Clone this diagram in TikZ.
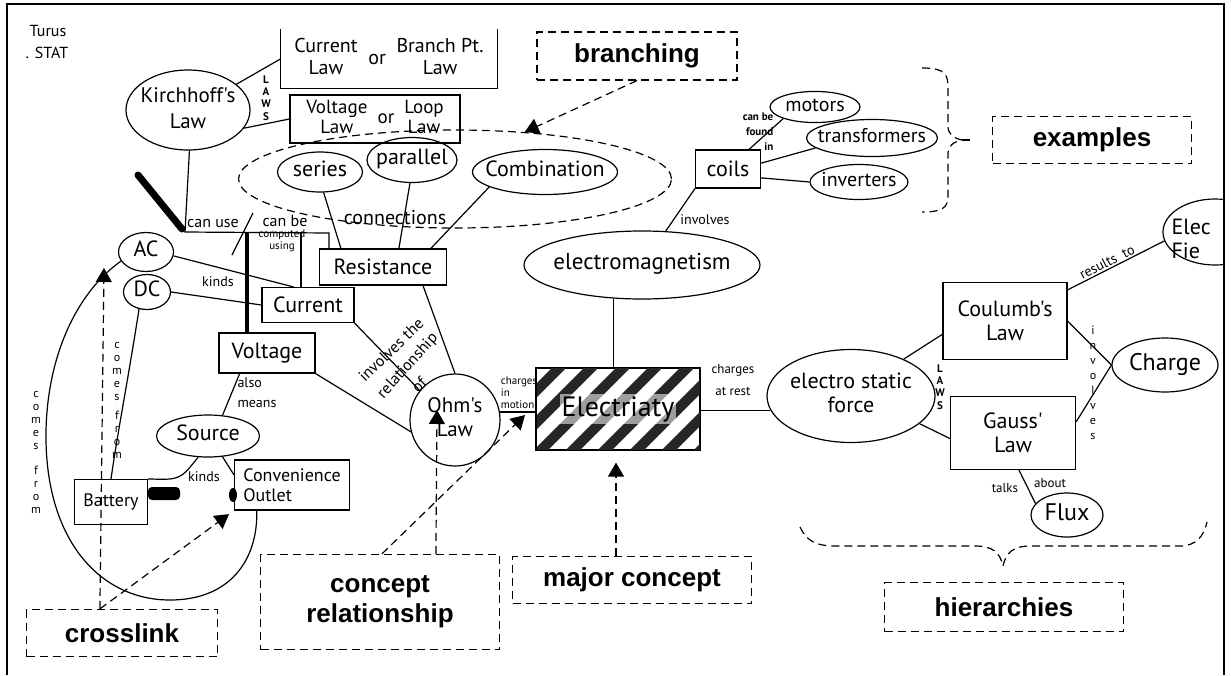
\documentclass[tikz,border=0pt]{standalone}
\usepackage{fontspec}
\setmainfont{Liberation Sans}
\newfontfamily\hand{PT Sans}
\usetikzlibrary{shapes.geometric,arrows.meta}
\newcommand{\mb}[1]{\makebox[0pt]{\begin{tabular}{@{}c@{}}#1\end{tabular}}}
\newcommand{\tw}[1]{\begin{tabular}{@{}c@{}}#1\end{tabular}}
\tikzset{
	hw/.style={font=\hand\fontsize{11}{12}\selectfont,align=center},
	blob/.style={hw,draw,ellipse,inner sep=0pt},
	cbox/.style={hw,draw,rectangle,inner sep=0pt},
	lbl/.style={font=\hand\fontsize{7}{8}\selectfont,align=center,inner sep=0pt},
	tinylbl/.style={font=\hand\fontsize{5.5}{6}\selectfont,align=center,inner sep=0pt},
	vlbl/.style={font=\hand\bfseries\fontsize{5.5}{6.2}\selectfont,align=center,inner sep=0pt},
	notedash/.style={dash pattern=on 4pt off 2.5pt},
	note/.style={draw,notedash,font=\bfseries\fontsize{13}{15}\selectfont,align=center,inner sep=0pt},
	notearrow/.style={notedash,-{Triangle[width=8pt,length=7pt]}},
}
\begin{document}
\begin{tikzpicture}[x=0.5pt,y=-0.5pt,line width=0.6pt]
		\useasboundingbox (0,0) rectangle (1231,675);
		\draw[line width=1pt] (7,675) -- (7,4) -- (1224,4) -- (1224,675);
		\node[hw,font=\hand\fontsize{8}{9}\selectfont] (turus) at (48,31) {Turus};
		\node[hw,font=\hand\fontsize{8}{9}\selectfont] (stat) at (47,53) {. STAT};
		%kirchhoff
		\node[blob,font=\hand\fontsize{10.5}{13}\selectfont,minimum width=62pt,minimum height=40pt] (kirch) at (188,110) {\mb{Kirchhoff's\\Law}};
		\node[hw,font=\hand\fontsize{10}{11}\selectfont,minimum width=108pt,minimum height=29pt,inner sep=0pt] (curlaw) at (389,59)
			{\tw{Current\\Law}\ \ or\ \ \tw{Branch Pt.\\Law}};
		\draw (curlaw.north west) -- (curlaw.south west) -- (curlaw.south east) -- (curlaw.north east);
		\node[cbox,font=\hand\fontsize{9.5}{10}\selectfont,minimum width=85pt,minimum height=24pt] (volaw) at (375,119)
			{\tw{Voltage\\Law}\ \ or\ \ \tw{Loop\\Law}};
		\draw (kirch.28) -- (curlaw.west);
		\draw (kirch.-18) -- (volaw.west);
		\node[vlbl] (laws1) at (266,98) {L\\A\\W\\S};
		%branching
		\node[note,minimum width=100pt,minimum height=24pt] (branch) at (637,56) {branching};
		\node[draw,notedash,ellipse,minimum width=216.5pt,minimum height=49pt,inner sep=0pt] (conn) at (455,179) {};
		\draw[notearrow] (branch.south) -- (conn.34);
		\node[blob,minimum width=42.5pt,minimum height=20pt] (series) at (320,172) {\mb{series}};
		\node[blob,minimum width=45pt,minimum height=22.5pt] (parallel) at (412,160) {\mb{parallel}};
		\node[blob,minimum width=72.5pt,minimum height=22.5pt] (comb) at (545,172) {\mb{Combination}};
		\node[hw,font=\hand\fontsize{10}{11}\selectfont,inner sep=0pt] (connl) at (395,218) {connections};
		%examples
		\node[cbox,minimum width=32.5pt,minimum height=19pt] (coils) at (728,169) {coils};
		\node[blob,font=\hand\fontsize{10}{11}\selectfont,minimum width=45pt,minimum height=13.5pt] (motors) at (815,107) {\mb{motors}};
		\node[blob,font=\hand\fontsize{10}{11}\selectfont,minimum width=65.5pt,minimum height=18.5pt] (trans) at (872,138) {\mb{transformers}};
		\node[blob,font=\hand\fontsize{10}{11}\selectfont,minimum width=49pt,minimum height=17.5pt] (inv) at (859,182) {\mb{inverters}};
		\draw ([xshift=-6pt]coils.north east) -- (motors.200);
		\draw (coils.10) -- (trans.190);
		\draw (coils.-15) -- (inv.west);
		\node[tinylbl,align=right,font=\hand\bfseries\fontsize{5.5}{7.5}\selectfont] (foundl) at (758,132) {can be\\found\\in};
		\draw[notedash] (922,68) .. controls (945,68) and (948,74) .. (948,88) -- (948,126) .. controls (948,134) and (953,138) .. (962,140)
			.. controls (953,142) and (948,146) .. (948,154) -- (948,196) .. controls (948,208) and (942,212) .. (922,212);
		\draw[notedash] (962,140) -- (972,140);
		\node[note,minimum width=99.5pt,minimum height=23.5pt] (examples) at (1092,140) {examples};
		%electricity
		\node[blob,font=\hand\fontsize{11.5}{12}\selectfont,minimum width=118pt,minimum height=34pt] (emag) at (642,265) {\mb{electromagnetism}};
		\draw (coils.south west) -- (emag.55);
		\node[lbl] (involl) at (705,220) {involves};
		\node[draw,minimum width=81.5pt,minimum height=41pt,inner sep=0pt] (elec) at (618,409) {};
		\begin{scope}
			\clip (elec.south west) rectangle (elec.north east);
			\foreach \s in {440,472,...,720}
				\draw[line width=5pt,black!85] (\s,455) -- ++(90,-90);
		\end{scope}
		\draw (elec.south west) rectangle (elec.north east);
		\node[hw,font=\hand\fontsize{14}{15}\selectfont,fill=white,fill opacity=.55,text opacity=1,inner sep=1pt] (elect) at (elec) {Electriaty};
		\draw (emag.-130) -- (emag.-130 |- elec.north);
		\node[blob,font=\hand\fontsize{10.5}{12}\selectfont,minimum width=45pt,minimum height=46pt] (ohm) at (455,420) {\mb{Ohm's\\Law}};
		\draw (ohm.10) -- (ohm.10 -| elec.west);
		\node[tinylbl,align=left,font=\hand\fontsize{5.5}{6}\selectfont] (motionl) at (519,393) {charges\\in\\motion};
		\node[blob,minimum width=84pt,minimum height=46.5pt] (esf) at (851,396) {\mb{electro static\\force}};
		\draw (esf.190) -- (esf.190 -| elec.east);
		\node[tinylbl,font=\hand\fontsize{6.5}{11}\selectfont] (restl) at (733,380) {charges\\at rest};
		%hierarchies
		\node[cbox,minimum width=62pt,minimum height=38.5pt] (coul) at (1005,321) {Coulumb's\\Law};
		\node[cbox,minimum width=62.5pt,minimum height=36.5pt] (gauss) at (1013,433) {Gauss'\\Law};
		\draw (esf.35) -- (coul.-168);
		\draw (esf.-22) -- (gauss.-175);
		\node[vlbl] (laws2) at (940,387) {L\\A\\W\\S};
		\node[blob,font=\hand\fontsize{12}{13}\selectfont,minimum width=53pt,minimum height=27pt] (charge) at (1165,365) {\mb{Charge}};
		\draw (coul.east) -- (charge.west);
		\draw (gauss.10) -- (charge.west);
		\node[vlbl,font=\hand\fontsize{6}{7.5}\selectfont] (involl2) at (1093,383) {i\\n\\v\\o\\l\\v\\e\\s};
		\begin{scope}
			\clip (7,4) rectangle (1224,675);
			\node[blob,minimum width=52pt,minimum height=33pt] (efield) at (1215,232) {};
		\end{scope}
		\node[hw,align=left,anchor=west,inner sep=0pt] (efieldt) at (1171,239) {Elec\\Fie};
		\draw ([yshift=-4pt]coul.north east) -- (efield.190);
		\node[lbl,rotate=27] (resultl) at (1107,262) {results\ \ to};
		\node[blob,font=\hand\fontsize{12}{13}\selectfont,minimum width=36pt,minimum height=22pt] (flux) at (1067,515) {\mb{Flux}};
		\draw ([xshift=3pt]gauss.south) -- (flux.160);
		\node[lbl,font=\hand\fontsize{6.5}{7}\selectfont] (talksl) at (1005,488) {talks};
		\node[lbl,font=\hand\fontsize{6.5}{7}\selectfont] (aboutl) at (1050,483) {about};
		\draw[notedash] (800,527) .. controls (806,540) and (815,546) .. (835,546) -- (975,546) .. controls (992,546) and (1000,552) .. (1003,566)
			.. controls (1006,552) and (1014,546) .. (1030,546) -- (1180,546) .. controls (1196,546) and (1204,536) .. (1207,522);
		\node[note,minimum width=119.5pt,minimum height=24.5pt] (hier) at (1004,607) {hierarchies};
		%left part
		\node[cbox,minimum width=63.5pt,minimum height=18pt] (resist) at (383,267) {Resistance};
		\node[cbox,minimum width=46pt,minimum height=17.5pt] (current) at (308,305) {Current};
		\node[cbox,minimum width=48pt,minimum height=20pt] (voltage) at (267,353) {Voltage};
		\draw (series.-80) -- ([xshift=11pt]resist.north west);
		\draw (parallel.-95) -- ([xshift=40pt]resist.north west);
		\draw (comb.-165) -- ([xshift=56pt]resist.north west);
		\draw[line width=3.5pt,line cap=round] (138,175) -- (182,229);
		\coordinate (ku) at (185,232);
		\coordinate (kc) at (329,233);
		\coordinate (kv) at (247,233);
		\coordinate (kcur) at (301,233);
		\draw (kirch.-88) -- (ku) -- (kc) -- (kc |- resist.north);
		\draw[line width=2.2pt] (kv) -- (kv |- voltage.north);
		\draw[line width=1.2pt] (kcur) -- (kcur |- current.north);
		\draw (253,213) -- (232,255);
		\node[lbl,font=\hand\fontsize{8}{9}\selectfont] (usel) at (213,223) {can use};
		\node[lbl,font=\hand\fontsize{8}{9}\selectfont] (canbel) at (285,221) {can be};
		\node[tinylbl] (compl) at (282,241) {computed\\using};
		\node[blob,minimum width=27.5pt,minimum height=19.5pt] (ac) at (146,252) {\mb{AC}};
		\node[blob,minimum width=23.5pt,minimum height=17.5pt] (dc) at (147,292) {\mb{DC}};
		\draw (ac.-8) -- ([xshift=16pt]current.north west);
		\draw (dc.east) -- (current.west);
		\node[lbl] (kindsl) at (218,282) {kinds};
		\draw (current.south east) -- (ohm.140);
		\draw ([xshift=20pt]resist.south) -- (ohm.north);
		\draw (voltage.south east) -- (ohm.195);
		\node[lbl,rotate=44,font=\hand\fontsize{8}{9}\selectfont] (relat1) at (391,350) {involves the};
		\node[lbl,rotate=48,font=\hand\fontsize{8}{9}\selectfont] (relat2) at (408,366) {relationship};
		\node[lbl,rotate=45,font=\hand\fontsize{8}{9}\selectfont] (relat3) at (419,385) {of};
		\node[blob,minimum width=51.5pt,minimum height=21pt] (source) at (208,436) {\mb{Source}};
		\draw (voltage.-143) -- (source.55);
		\node[lbl,align=left,font=\hand\fontsize{7}{10}\selectfont] (alsol) at (257,393) {also\\means};
		\node[cbox,font=\hand\fontsize{9}{10}\selectfont,minimum width=36.5pt,minimum height=22.5pt] (battery) at (111,502) {Battery};
		\node[cbox,align=left,font=\hand\fontsize{9}{10}\selectfont,minimum width=57.5pt,minimum height=25pt] (outlet) at (292,485) {Convenience\\Outlet};
		\draw (source.-115) .. controls (180,480) .. (battery.north east);
		\draw (source.-55) -- (outlet.170);
		\node[lbl] (kindsl2) at (204,477) {kinds};
		\fill[rounded corners=2pt] (148,487) rectangle (180,500);
		\fill (233,495) ellipse [x radius=2pt,y radius=3.5pt];
		\draw (dc.-115) .. controls (128,380) and (118,430) .. (battery.north);
		\node[vlbl,font=\hand\fontsize{6}{6.5}\selectfont] (froml) at (117,400) {c\\o\\m\\e\\s\\[3pt]f\\r\\o\\m};
		\draw (ac.200) .. controls (80,290) and (48,350) .. (46,430) .. controls (44,540) and (100,600) .. (170,600)
			.. controls (230,600) and (258,560) .. (outlet.-144);
		\node[vlbl,font=\hand\fontsize{6}{6.5}\selectfont] (froml2) at (36,452) {c\\o\\m\\e\\s\\[6pt]f\\r\\o\\m};
		%notes at the bottom
		\node[note,minimum width=95.5pt,minimum height=23.5pt] (crosslink) at (122,633) {crosslink};
		\node[note,minimum width=119.5pt,minimum height=47.5pt] (concept) at (380,602) {concept\\relationship};
		\node[note,minimum width=119.5pt,minimum height=23.5pt] (major) at (632,580) {major concept};
		\coordinate (cltip) at (104,268);
		\coordinate (ohmtip) at (437,410);
		\coordinate (motiontip) at (525,415);
		\draw[notearrow] ([xshift=37pt]crosslink.north west) -- (cltip);
		\draw[notearrow,shorten >=3pt] ([xshift=37pt]crosslink.north west) -- (outlet.south west);
		\draw[notearrow] ([xshift=88pt]concept.north west) -- (ohmtip);
		\draw[notearrow] ([xshift=61pt]concept.north west) -- (motiontip);
		\draw[notearrow,shorten >=6pt] ([xshift=-8pt]major.north) -- ([xshift=-8pt]major.north |- elec.south);
\end{tikzpicture}
\end{document}
